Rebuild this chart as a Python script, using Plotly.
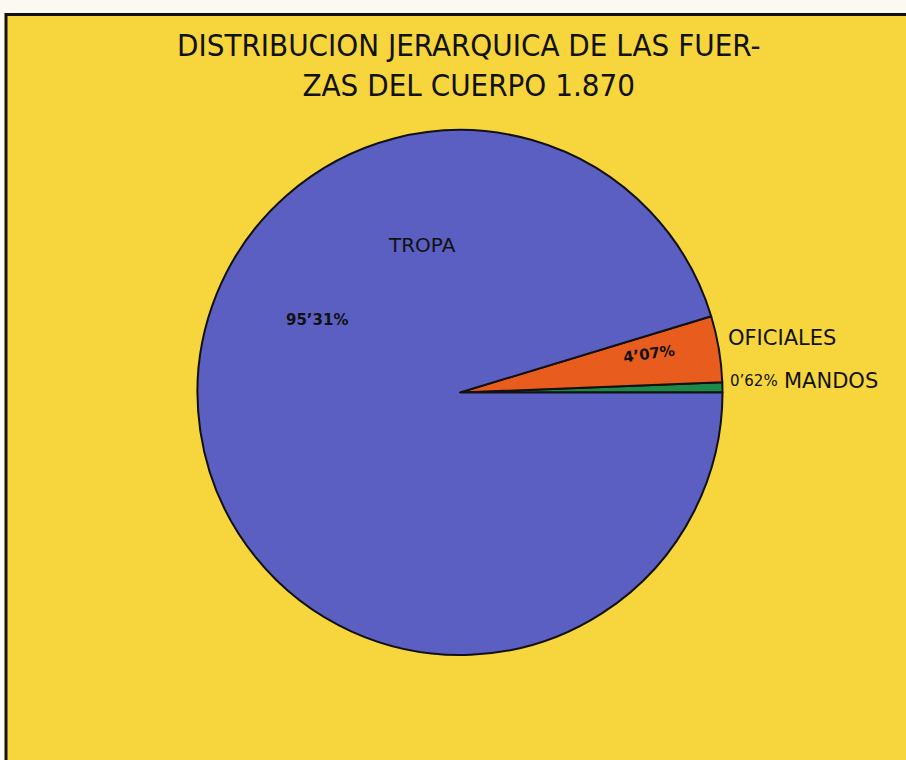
import plotly.graph_objects as go

categories = ["MANDOS", "OFICIALES", "TROPA"]
values = [0.62, 4.07, 95.31]
colors = ["#1f8a48", "#e85c1e", "#5b5fc2"]
title_lines = ["DISTRIBUCION JERARQUICA DE LAS FUER-", "ZAS DEL CUERPO 1.870"]

W, H = 906, 760

def pct(v):
    return f"{v:.2f}".replace(".", "’") + "%"

fig = go.Figure(go.Pie(
    labels=categories,
    values=values,
    sort=False,
    direction="counterclockwise",
    rotation=90 - 360 * values[0] / sum(values),
    marker=dict(colors=colors, line=dict(color="#111111", width=2)),
    textinfo="none",
    hoverinfo="label+percent",
    showlegend=False,
    domain=dict(x=[197 / W, 723 / W], y=[1 - 655 / H, 1 - 130 / H]),
))

def px(x):
    return x / W

def py(y):
    return 1 - y / H

font_main = "Liberation Sans Narrow, DejaVu Sans Condensed, Arial Narrow, sans-serif"
font_lab = "DejaVu Sans, Liberation Sans, sans-serif"
font_num = "DejaVu Sans, sans-serif"

annotations = [
    dict(text="<br>".join(title_lines), x=px(468), y=py(65), align="center",
         font=dict(size=31, family=font_main, color="#111")),
    dict(text=categories[2], x=px(422), y=py(245), font=dict(size=20, family=font_lab, color="#111")),
    dict(text=pct(values[2]), x=px(317), y=py(320), font=dict(size=15, family=font_num, color="#111", weight="bold")),
    dict(text=pct(values[1]), x=px(649), y=py(354), textangle=-8, font=dict(size=15, family=font_num, color="#111", weight="bold")),
    dict(text=categories[1], x=px(726), y=py(338), xanchor="left", font=dict(size=21, family=font_lab, color="#111")),
    dict(text=pct(values[0]), x=px(728), y=py(381), xanchor="left", font=dict(size=15, family=font_lab, color="#111")),
    dict(text=categories[0], x=px(782), y=py(381), xanchor="left", font=dict(size=21, family=font_lab, color="#111")),
]
for a in annotations:
    a.setdefault("xanchor", "center")
    a.update(xref="paper", yref="paper", showarrow=False, yanchor="middle")

fig.update_layout(
    width=W, height=H,
    margin=dict(l=0, r=0, t=0, b=0),
    paper_bgcolor="#fbf9f2",
    plot_bgcolor="#fbf9f2",
    annotations=annotations,
    shapes=[dict(
        type="rect", xref="paper", yref="paper", layer="below",
        x0=6 / W, x1=1.02, y0=-0.02, y1=1 - 14.5 / H,
        fillcolor="#f6d63c", line=dict(color="#111111", width=3),
    )],
)

fig.write_html(
    "out.html",
    config={"displayModeBar": False},
    post_script="document.body.style.margin='0';document.body.style.overflow='hidden';",
)
